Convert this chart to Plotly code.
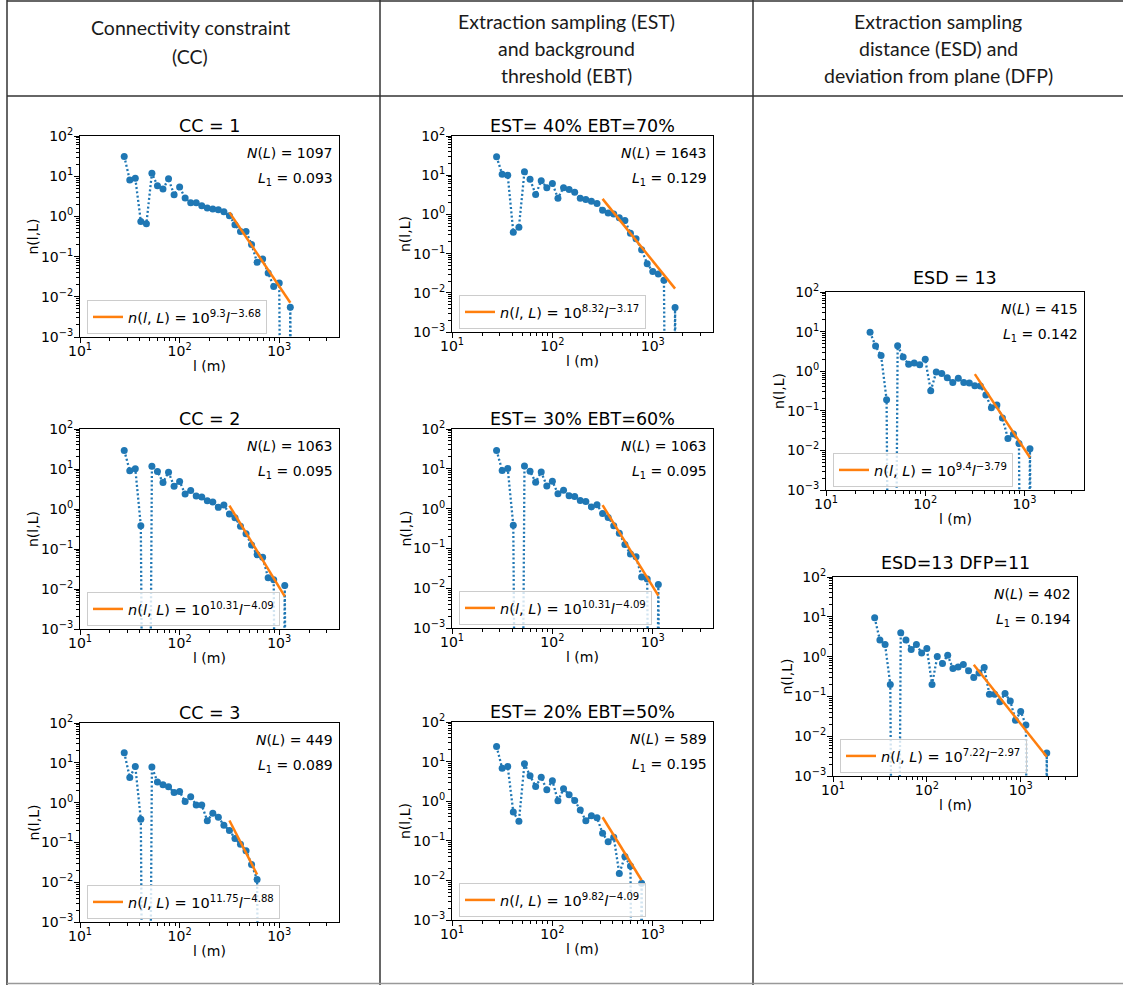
import plotly.graph_objects as go

W, H = 1123, 985

# ---------------- data ----------------
# length-bin centres (m), shared by all panels
L_BINS = [27.8, 31.6, 35.9, 40.8, 46.4, 52.7, 59.9, 68.1, 77.4, 88.0,
          100.0, 113.6, 129.2, 146.8, 166.8, 189.6, 215.4, 244.8, 278.3, 316.2,
          359.4, 408.4, 464.2, 527.5, 599.5, 681.3, 774.3, 880.0, 1000.0, 1136.0,
          1292.0, 1468.0, 1668.0, 1896.0, 2154.0]

N_CC1 = [31, 8.1, 8.9, 0.75, 0.66, 11.9, 5.8, 4.8, 8.6, 3.45,
         5.35, 2.85, 2.2, 2.2, 1.84, 1.61, 1.52, 1.46, 1.3, 1.04,
         0.62, 0.42, 0.42, 0.2, 0.072, 0.087, 0.039, 0.018, 0.022, 0,
         0.0055, 0]
N_CC2 = [29, 9.1, 10.2, 0.38, 0, 11.7, 8.7, 4.6, 8.3, 3.7,
         4.9, 2.37, 2.9, 2.1, 2.0, 1.6, 1.5, 1.1, 1.25, 0.75,
         0.6, 0.37, 0.24, 0.125, 0.072, 0.062, 0.019, 0.017, 0, 0.0123,
         0]
N_CC3 = [18, 4.3, 8.1, 0.38, 0, 7.8, 3.3, 2.8, 2.5, 1.8,
         1.9, 1.06, 1.4, 0.87, 0.87, 0.35, 0.54, 0.43, 0.27, 0.2,
         0.126, 0.09, 0.062, 0.028, 0.0117, 0]
N_EST40 = [29.5, 10.6, 10, 0.35, 0.47, 12.2, 7.9, 3.2, 7.2, 4.8,
           6.1, 2.6, 4.8, 4.3, 3.7, 2.6, 2.4, 2.15, 1.9, 1.27,
           1.08, 1.03, 0.82, 0.7, 0.33, 0.24, 0.125, 0.055, 0.035, 0.03,
           0.021, 0, 0.0042, 0]
N_EST30 = [29, 9.1, 10.2, 0.38, 0, 11.7, 8.7, 4.6, 8.3, 3.7,
           4.9, 2.37, 2.9, 2.1, 2.0, 1.6, 1.5, 1.1, 1.25, 0.75,
           0.6, 0.37, 0.24, 0.125, 0.072, 0.062, 0.019, 0.017, 0, 0.0123,
           0]
N_EST20 = [24, 6.8, 7.5, 0.53, 0.31, 8.8, 4.4, 2.35, 4.0, 1.94,
           3.3, 1.02, 2.05, 1.45, 1.04, 0.6, 0.32, 0.43, 0.38, 0.155,
           0.095, 0.123, 0.015, 0.04, 0.023, 0, 0.0085, 0]
N_ESD13 = [9.6, 4.3, 2.5, 0.19, 0, 4.4, 2.3, 1.5, 1.6, 1.45,
           2.0, 0.32, 0.95, 0.88, 0.68, 0.52, 0.66, 0.52, 0.5, 0.43,
           0.42, 0.25, 0.12, 0.14, 0.066, 0.02, 0.026, 0.015, 0, 0.011,
           0]
N_ESD13_DFP11 = [9.4, 2.6, 2.0, 0.2, 0, 4.0, 2.6, 1.5, 2.0, 1.24,
                 1.6, 0.2, 1.0, 0.67, 1.08, 0.5, 0.55, 0.63, 0.44, 0.3,
                 0.39, 0.53, 0.113, 0.113, 0.073, 0.118, 0.077, 0.025, 0.042, 0.019,
                 0, 0, 0, 0.0038, 0]

SERIES = [N_CC1, N_CC2, N_CC3, N_EST40, N_EST30, N_EST20, N_ESD13, N_ESD13_DFP11]
TITLES = ["CC = 1", "CC = 2", "CC = 3",
          "EST= 40% EBT=70%", "EST= 30% EBT=60%", "EST= 20% EBT=50%",
          "ESD = 13", "ESD=13 DFP=11"]
N_L = [1097, 1063, 449, 1643, 1063, 589, 415, 402]
L1 = ["0.093", "0.095", "0.089", "0.129", "0.095", "0.195", "0.142", "0.194"]
FIT_A = [9.3, 10.31, 11.75, 8.32, 10.31, 9.82, 9.4, 7.22]
FIT_B = [-3.68, -4.09, -4.88, -3.17, -4.09, -4.09, -3.79, -2.97]
FIT_LMIN = 316.2

COL_HEADERS = [["Connectivity constraint", "(CC)"],
               ["Extraction sampling (EST)", "and background", "threshold (EBT)"],
               ["Extraction sampling", "distance (ESD) and", "deviation from plane (DFP)"]]

X_TICKS = [10, 100, 1000]
X_TICKTEXT = ["10<sup>1</sup>", "10<sup>2</sup>", "10<sup>3</sup>"]
X_MINOR = [20, 30, 40, 50, 60, 70, 80, 90, 200, 300, 400, 500, 600, 700, 800, 900,
           2000, 3000]
Y_TICKS = [1e-3, 1e-2, 1e-1, 1, 10, 100]
Y_TICKTEXT = ["10<sup>−3</sup>", "10<sup>−2</sup>", "10<sup>−1</sup>",
              "10<sup>0</sup>", "10<sup>1</sup>", "10<sup>2</sup>"]
Y_MINOR = [2e-3, 3e-3, 4e-3, 5e-3, 6e-3, 7e-3, 8e-3, 9e-3,
           2e-2, 3e-2, 4e-2, 5e-2, 6e-2, 7e-2, 8e-2, 9e-2,
           0.2, 0.3, 0.4, 0.5, 0.6, 0.7, 0.8, 0.9,
           2, 3, 4, 5, 6, 7, 8, 9, 20, 30, 40, 50, 60, 70, 80, 90]

# ---------------- layout (pixel boxes: left, top, right, bottom) ----------------
BOXES = [(80, 136, 339, 337), (80, 429, 339, 629), (80, 723, 339, 922),
         (452, 136, 713, 332), (452, 429, 713, 628), (452, 722, 713, 920),
         (826, 292, 1084, 490), (833, 577, 1077, 776)]
TITLE_GAP = [10, 10, 10, 10, 10, 10, 14, 14]

BLUE = "#1f77b4"
ORANGE = "#ff7f0e"
FONT = "DejaVu Sans"
TINY = 1e-20  # stands in for empty bins on the log axis (like matplotlib clipping)


def px(p):
    return p / W


def py(p):
    return 1 - p / H


def fmt(v):
    return f"{v:g}".replace("-", "−")


fig = go.Figure()
annotations = []
layout = {}

for i, (vals, box) in enumerate(zip(SERIES, BOXES)):
    n = i + 1
    sfx = "" if n == 1 else str(n)
    l, t, r, b = box
    xs = L_BINS[:len(vals)]
    ys = [v if v > 0 else TINY for v in vals]
    fig.add_trace(go.Scatter(
        x=xs, y=ys, mode="lines+markers", xaxis="x" + sfx, yaxis="y" + sfx,
        line=dict(color=BLUE, width=2.3, dash="2px,2.3px"),
        marker=dict(color=BLUE, size=7), showlegend=False, hoverinfo="skip"))
    last = max(x for x, v in zip(xs, vals) if v > 0)
    fx = [FIT_LMIN, last]
    fy = [10 ** FIT_A[i] * x ** FIT_B[i] for x in fx]
    label = (f"<i>n</i>(<i>l</i>, <i>L</i>) = 10<sup>{fmt(FIT_A[i])}</sup>"
             f"<i>l</i><sup>{fmt(FIT_B[i])}</sup>")
    fig.add_trace(go.Scatter(
        x=fx, y=fy, mode="lines", xaxis="x" + sfx, yaxis="y" + sfx,
        line=dict(color=ORANGE, width=2.5), name=label,
        legend="legend" + sfx, showlegend=True, hoverinfo="skip"))

    axis_common = dict(type="log", showline=True, linecolor="black", linewidth=1,
                       mirror=True, ticks="outside", ticklen=5, tickwidth=1,
                       tickcolor="black", showgrid=False, zeroline=False,
                       tickmode="array", automargin=False,
                       tickfont=dict(family=FONT, size=14, color="black"))
    layout["xaxis" + sfx] = dict(axis_common, range=[1, 3.6],
                                 domain=[px(l), px(r)], anchor="y" + sfx,
                                 tickvals=X_TICKS, ticktext=X_TICKTEXT,
                                 ticklabelstandoff=-4,
                                 minor=dict(ticks="outside", ticklen=3,
                                            tickcolor="black", tickvals=X_MINOR))
    layout["yaxis" + sfx] = dict(axis_common, range=[-3, 2],
                                 domain=[py(b), py(t)], anchor="x" + sfx,
                                 tickvals=Y_TICKS, ticktext=Y_TICKTEXT,
                                 ticklabelstandoff=-2,
                                 minor=dict(ticks="outside", ticklen=3,
                                            tickcolor="black", tickvals=Y_MINOR))
    layout["legend" + sfx] = dict(
        x=px(l + 7), y=py(b - 3), xanchor="left", yanchor="bottom",
        bgcolor="rgba(255,255,255,0.8)", bordercolor="#cccccc", borderwidth=1,
        font=dict(family=FONT, size=14.5, color="black"), itemwidth=30)

    cx = (l + r) / 2
    annotations += [
        dict(text=TITLES[i], x=px(cx), y=py(t - TITLE_GAP[i]), xanchor="center",
             yanchor="middle", font=dict(family=FONT, size=17.5, color="black")),
        dict(text=f"<i>N</i>(<i>L</i>) = {N_L[i]}", x=px(r - 4), y=py(t + 17),
             xanchor="right", yanchor="middle",
             font=dict(family=FONT, size=14, color="black")),
        dict(text=f"<i>L</i><sub>1</sub> = {L1[i]}", x=px(r - 4), y=py(t + 43),
             xanchor="right", yanchor="middle",
             font=dict(family=FONT, size=14, color="black")),
        dict(text="n(l,L)", x=px(l - 47), y=py((t + b) / 2), textangle=-90,
             xanchor="center", yanchor="middle",
             font=dict(family=FONT, size=14, color="black")),
        dict(text="l (m)", x=px(cx), y=py(b + 29), xanchor="center", yanchor="middle",
             font=dict(family=FONT, size=14, color="black")),
    ]

# column headers
HEADER_CX = [190, 566, 938]
HEADER_Y = {2: [28, 56], 3: [21, 48, 76]}
for cx, lines in zip(HEADER_CX, COL_HEADERS):
    for yy, txt in zip(HEADER_Y[len(lines)], lines):
        annotations.append(dict(text=txt, x=px(cx), y=py(yy), xanchor="center",
                                yanchor="middle",
                                font=dict(family="Lato", size=19.5, color="#1a1a1a")))

for a in annotations:
    a.update(xref="paper", yref="paper", showarrow=False)

# table rules
LINE = dict(color="#333333", width=1.5)
shapes = [
    dict(type="line", x0=px(7), x1=1, y0=py(1), y1=py(1), line=LINE),
    dict(type="line", x0=px(7), x1=px(7), y0=py(0), y1=py(985), line=LINE),
    dict(type="line", x0=px(7), x1=1, y0=py(96), y1=py(96), line=LINE),
    dict(type="line", x0=px(380), x1=px(380), y0=py(0), y1=py(985), line=LINE),
    dict(type="line", x0=px(753), x1=px(753), y0=py(0), y1=py(985), line=LINE),
    dict(type="line", x0=px(7), x1=1, y0=py(983.5), y1=py(983.5),
         line=dict(color="#999999", width=1.5)),
]
for s in shapes:
    s.update(xref="paper", yref="paper")

fig.update_layout(width=W, height=H,
                  margin=dict(l=0, r=0, t=0, b=0, pad=0, autoexpand=False),
                  paper_bgcolor="white", plot_bgcolor="white",
                  annotations=annotations, shapes=shapes, **layout)

fig.write_html("out.html",
               post_script="document.body.style.margin='0px';"
                           "document.body.style.overflow='hidden';")
